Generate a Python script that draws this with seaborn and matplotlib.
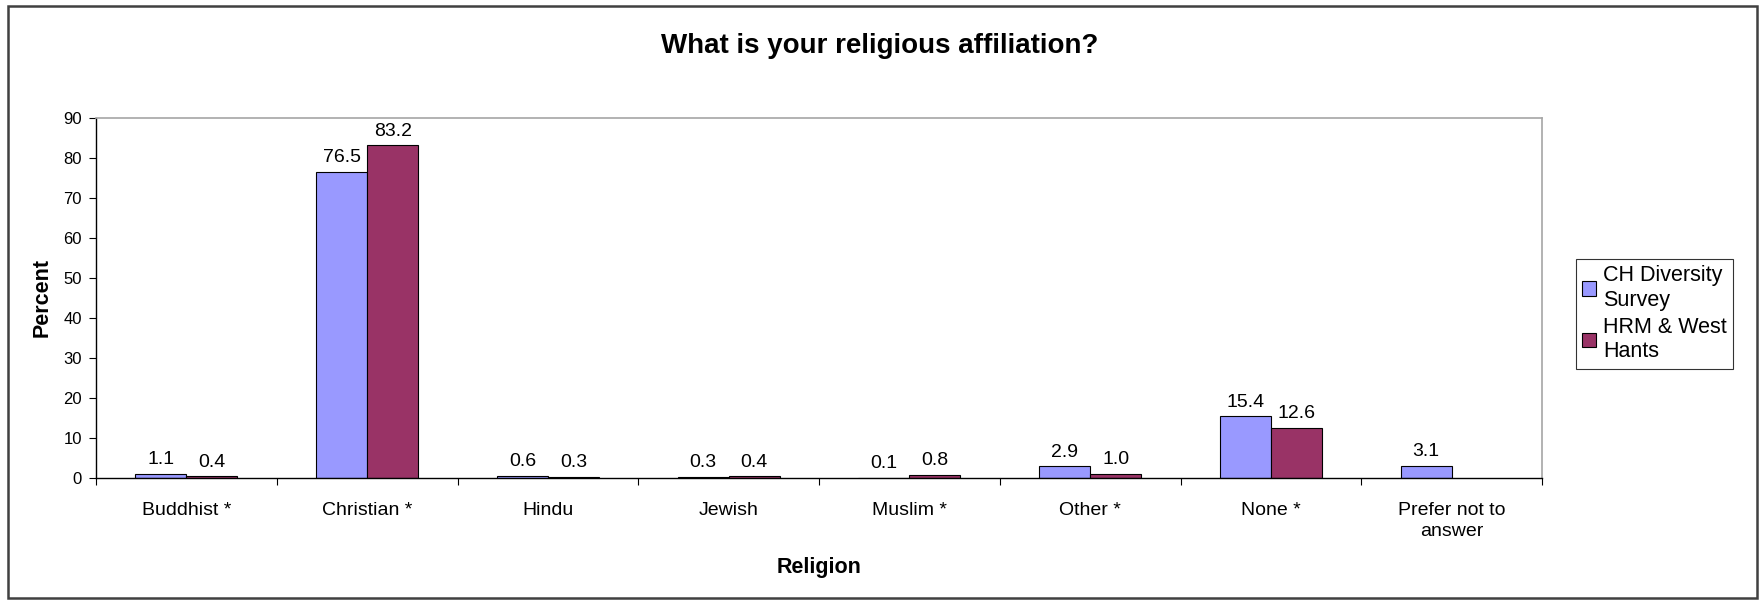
import matplotlib
matplotlib.use("Agg")

import matplotlib.pyplot as plt
import seaborn as sns
import pandas as pd
import numpy as np
from matplotlib.patches import Rectangle

# ── data ──
religions = ["Buddhist *", "Christian *", "Hindu", "Jewish", "Muslim *",
             "Other *", "None *", "Prefer not to\nanswer"]
ch_survey = [1.1, 76.5, 0.6, 0.3, 0.1, 2.9, 15.4, 3.1]
hrm_west = [0.4, 83.2, 0.3, 0.4, 0.8, 1.0, 12.6, np.nan]
series_names = ["CH Diversity\nSurvey", "HRM & West\nHants"]
y_ticks = list(range(0, 100, 10))

df = pd.DataFrame({
    "Religion": religions * 2,
    "Percent": ch_survey + hrm_west,
    "Source": [series_names[0]] * len(religions) + [series_names[1]] * len(religions),
}).dropna()

sns.set_theme(style="white")
plt.rcParams["font.family"] = ["Liberation Sans", "DejaVu Sans"]
plt.rcParams.update({"text.color": "black", "axes.labelcolor": "black",
                     "xtick.color": "black", "ytick.color": "black"})

fig = plt.figure(figsize=(17.6, 6.0), dpi=100)
ax = fig.add_axes([96 / 1760, 1 - 478 / 600, (1542 - 96) / 1760, (478 - 118) / 600])

palette = {series_names[0]: "#9999FF", series_names[1]: "#993366"}
sns.barplot(data=df, x="Religion", y="Percent", hue="Source", order=religions,
            hue_order=series_names, palette=palette, width=0.565, saturation=1,
            edgecolor="black", linewidth=0.8, ax=ax, legend=True)

for cont in ax.containers:
    ax.bar_label(cont, fmt="%.1f", padding=4, fontsize=14, color="black")

ax.set_xlim(-0.5, len(religions) - 0.5)
ax.set_ylim(0, 90)
ax.set_yticks(y_ticks)
ax.tick_params(axis="y", which="major", direction="out", length=5, width=0.8,
               left=True, labelsize=12, colors="black", pad=5)
ax.tick_params(axis="x", which="major", length=0, labelsize=14, pad=17,
               labelcolor="black")
ax.set_xticks(np.arange(-0.5, len(religions), 1.0), minor=True)
ax.tick_params(axis="x", which="minor", direction="out", length=5, width=0.8,
               bottom=True, colors="black")
for lbl in ax.get_xticklabels():
    lbl.set_linespacing(1.35)

for side in ["left", "bottom"]:
    ax.spines[side].set_color("black")
    ax.spines[side].set_linewidth(1.0)
for side in ["top", "right"]:
    ax.spines[side].set_color("#a6a6a6")
    ax.spines[side].set_linewidth(1.2)

ax.set_xlabel("")
ax.set_ylabel("")
fig.text(819 / 1760, 1 - 568 / 600, "Religion", fontsize=15.5, fontweight="bold",
         ha="center", va="center", color="black")
fig.text(42 / 1760, 1 - 298 / 600, "Percent", fontsize=15.5, fontweight="bold",
         ha="center", va="center", rotation=90, color="black")
fig.text(0.5, 1 - 46 / 600, "What is your religious affiliation?", fontsize=20,
         fontweight="bold", ha="center", va="center", color="black")

handles, labels = ax.get_legend_handles_labels()
ax.legend_.remove()
leg = fig.legend(handles, labels, loc="upper left",
                 bbox_to_anchor=(1576 / 1760, 1 - 259 / 600),
                 fontsize=15.5, frameon=True, fancybox=False, handlelength=0.65,
                 handleheight=0.65, handletextpad=0.3, borderpad=0.3,
                 labelspacing=0.3, borderaxespad=0, labelcolor="black")
leg.get_frame().set_edgecolor("black")
leg.get_frame().set_linewidth(0.8)

# outer chart border
fig.patches.append(Rectangle((8 / 1760, 2 / 600), (1757 - 8) / 1760, (594 - 2) / 600,
                             transform=fig.transFigure, fill=False,
                             edgecolor="#404040", linewidth=1.8))

fig.savefig("out.png", dpi=100)
plt.close(fig)
